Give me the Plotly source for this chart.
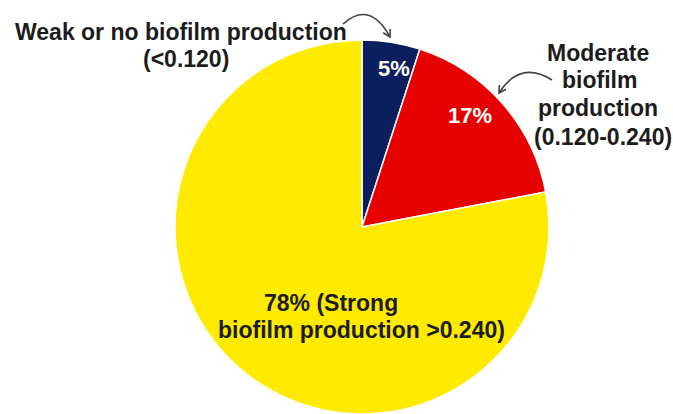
import math
import plotly.graph_objects as go

# ---- data ----
categories = ["Weak or no biofilm production (<0.120)",
              "Moderate biofilm production (0.120-0.240)",
              "Strong biofilm production (>0.240)"]
values = [5, 17, 78]
colors = ["#0b1f5e", "#e60000", "#ffea00"]

W, H = 673, 414
cx, cy, r = 362, 227, 187

fig = go.Figure()
fig.add_trace(go.Pie(
    labels=categories, values=values, sort=False, direction="clockwise",
    rotation=0, textinfo="none", hoverinfo="label+percent",
    marker=dict(colors=colors, line=dict(color="white", width=1.5)),
    domain=dict(x=[(cx - r) / W, (cx + r) / W],
                y=[(H - cy - r) / H, (H - cy + r) / H]),
    showlegend=False,
))

# invisible pixel-space axes for annotations and arrows
fig.add_trace(go.Scatter(x=[0, W], y=[0, H], mode="markers",
                         marker=dict(opacity=0), hoverinfo="skip", showlegend=False))

FONT = "Arial, Liberation Sans, sans-serif"
DARK = "#1c1c1c"

def label(txt, x, y, color=DARK, size=23):
    fig.add_annotation(x=x, y=y, xref="x", yref="y", text=f"<b>{txt}</b>",
                       showarrow=False, xanchor="center", yanchor="middle",
                       font=dict(family=FONT, size=size, color=color))

label("Weak or no biofilm production", 181, 32)
label("(<0.120)", 186, 59)
label(f"{values[0]}%", 394, 68, color="white", size=22)
label("Moderate", 598, 53)
label("biofilm", 599, 80)
label("production", 598, 108)
label("(0.120-0.240)", 603, 137)
label(f"{values[1]}%", 470, 115, color="white", size=22)
label(f"{values[2]}% (Strong", 331, 303)
label("biofilm production >0.240)", 361, 330)

def curved_arrow(p0, c, p1, color="#444444"):
    fig.add_shape(type="path", xref="x", yref="y",
                  path=f"M {p0[0]},{p0[1]} Q {c[0]},{c[1]} {p1[0]},{p1[1]}",
                  line=dict(color=color, width=1.6))
    dx, dy = p1[0] - c[0], p1[1] - c[1]
    L = math.hypot(dx, dy)
    ux, uy = dx / L, dy / L
    px, py = -uy, ux
    a, b = 7, 4
    l1 = (p1[0] - a * ux + b * px, p1[1] - a * uy + b * py)
    l2 = (p1[0] - a * ux - b * px, p1[1] - a * uy - b * py)
    fig.add_shape(type="path", xref="x", yref="y",
                  path=f"M {l1[0]},{l1[1]} L {p1[0]},{p1[1]} L {l2[0]},{l2[1]}",
                  line=dict(color=color, width=1.6))

curved_arrow((343, 24), (370, 0), (390, 37))
curved_arrow((552, 80), (520, 60), (499, 93))

fig.update_layout(
    width=W, height=H, margin=dict(l=0, r=0, t=0, b=0),
    paper_bgcolor="white", plot_bgcolor="rgba(0,0,0,0)",
    xaxis=dict(range=[0, W], visible=False, domain=[0, 1], fixedrange=True),
    yaxis=dict(range=[H, 0], visible=False, domain=[0, 1], fixedrange=True),
)

fig.write_html("out.html")
